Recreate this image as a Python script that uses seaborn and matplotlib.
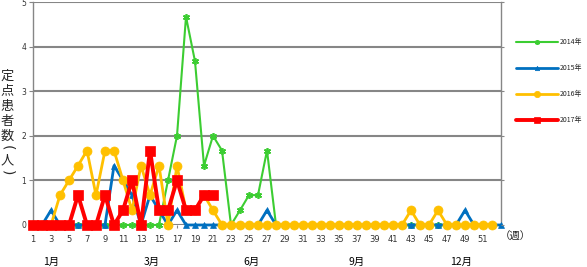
import numpy as np
import pandas as pd
import matplotlib
matplotlib.use('Agg')
import matplotlib.pyplot as plt
import seaborn as sns

# ---- data ----
series_names = ["2014年", "2015年", "2016年", "2017年"]
y2014 = [0, 0, 0, 0, 0, 0, 0, 0, 0, 0, 0, 0, 0, 0, 0, 1.0, 2.0, 4.67, 3.67, 1.33,
         2.0, 1.67, 0, 0.33, 0.67, 0.67, 1.67, 0, 0, 0, 0, 0, 0, 0, 0, 0, 0, 0, 0, 0,
         0, 0, 0, 0, 0, 0, 0, 0, 0, 0, 0, 0]
y2015 = [0, 0, 0.33, 0, 0, 0, 0, 0, 0, 1.33, 1.0, 0.67, 0, 0.67, 0.33, 0, 0.33, 0, 0, 0,
         0, 0, 0, 0, 0, 0, 0.33, 0, 0, 0, 0, 0, 0, 0, 0, 0, 0, 0, 0, 0,
         0, 0, 0, 0, 0, 0, 0, 0, 0.33, 0, 0, 0, 0]
y2016 = [0, 0, 0, 0.67, 1.0, 1.33, 1.67, 0.67, 1.67, 1.67, 1.0, 0.33, 1.33, 0.67, 1.33, 0, 1.33, 0.33, 0.33, 0.67,
         0.33, 0, 0, 0, 0, 0, 0, 0, 0, 0, 0, 0, 0, 0, 0, 0, 0, 0, 0, 0,
         0, 0, 0.33, 0, 0, 0.33, 0, 0, 0, 0, 0, 0]
y2017 = [0, 0, 0, 0, 0, 0.67, 0, 0, 0.67, 0, 0.33, 1.0, 0, 1.67, 0.33, 0.33, 1.0, 0.33, 0.33, 0.67,
         0.67]
x_tick_labels = [str(w) for w in range(1, 53, 2)]
month_labels = ["1月", "3月", "6月", "9月", "12月"]
month_weeks = [3, 14.2, 25.3, 37.0, 48.6]
y_ticks = [0, 1, 2, 3, 4, 5]
ylabel_chars = ["定", "点", "患", "者", "数", "(", "人", ")"]

colors = ["#3CCD32", "#0070C0", "#FFC000", "#FF0000"]
markers = [(6, 2, 0), "^", "o", "s"]
msizes = [5, 4.5, 6.5, 7]
lws = [1.5, 2.0, 2.0, 2.8]

sns.set_theme(style="white")
plt.rcParams['font.family'] = ['Noto Sans CJK JP', 'DejaVu Sans']

fig = plt.figure(figsize=(5.87, 2.67), dpi=100)
W, H = 587, 267
ax = fig.add_axes([33 / W, 42 / H, (501 - 33) / W, (225 - 2) / H])

for name, ys, c, m, ms, lw in zip(series_names, [y2014, y2015, y2016, y2017],
                                   colors, markers, msizes, lws):
    df = pd.DataFrame({"week": np.arange(1, len(ys) + 1), "val": ys})
    sns.lineplot(data=df, x="week", y="val", ax=ax, color=c, marker=m,
                 markersize=ms, linewidth=lw, markeredgecolor=c,
                 markeredgewidth=1.2 if m == (6, 2, 0) else 0.5,
                 label=name, clip_on=False, zorder=3)

ax.set_xlim(1, 53)
ax.set_ylim(0, 5)
ax.set_xticks(range(1, 53, 2))
ax.set_xticklabels(x_tick_labels, fontsize=6, color="#333333", family="DejaVu Sans")
ax.set_yticks(y_ticks)
ax.set_yticklabels([str(t) for t in y_ticks], fontsize=5.5, color="#333333", family="DejaVu Sans")
ax.set_xlabel("")
ax.set_ylabel("")
ax.grid(axis="y", color="#868686", linewidth=1.5, zorder=0)
ax.grid(axis="x", visible=False)
ax.spines["top"].set_visible(False)
ax.spines["bottom"].set_visible(False)
for s in ["left", "right"]:
    ax.spines[s].set_color("#868686")
    ax.spines[s].set_linewidth(1.0)
ax.tick_params(axis="y", length=3, width=0.8, color="#868686", pad=2, left=True)
ax.tick_params(axis="x", length=2, width=0.8, color="#868686", pad=5, bottom=True)

# right axis ticks
ax2 = ax.twinx()
ax2.set_ylim(0, 5)
ax2.set_yticks(y_ticks)
ax2.set_yticklabels([])
ax2.tick_params(axis="y", length=2, width=0.8, color="#868686", right=True)
for s in ax2.spines.values():
    s.set_visible(False)
ax2.grid(False)

# legend
ax.legend(loc="upper left", bbox_to_anchor=(516 / W, 1 - 38 / H),
          bbox_transform=fig.transFigure, frameon=False, fontsize=5.0,
          handlelength=6.0, labelspacing=2.6, handletextpad=0.3,
          borderpad=0, borderaxespad=0, markerscale=0.7)

# month labels
for lab, wk in zip(month_labels, month_weeks):
    ax.text(wk, -37 / 223, lab, transform=ax.get_xaxis_transform(),
            ha="center", va="center", fontsize=7.5, color="#000000")

fig.text(515 / W, 1 - 237 / H, "（週）", ha="center", va="center", fontsize=7.5)

# y label stacked vertically
ylabel_y = [76, 91, 106, 121, 136, 148, 161, 173]
for ch, yy in zip(ylabel_chars, ylabel_y):
    if ch in ("(", ")"):
        fig.text(7 / W, 1 - yy / H, ch, ha="center", va="center",
                 fontsize=10, rotation=-90, family="DejaVu Sans",
                 rotation_mode="anchor")
    else:
        fig.text(7 / W, 1 - yy / H, ch, ha="center", va="center", fontsize=9.5)

fig.savefig("out.png", dpi=100)
